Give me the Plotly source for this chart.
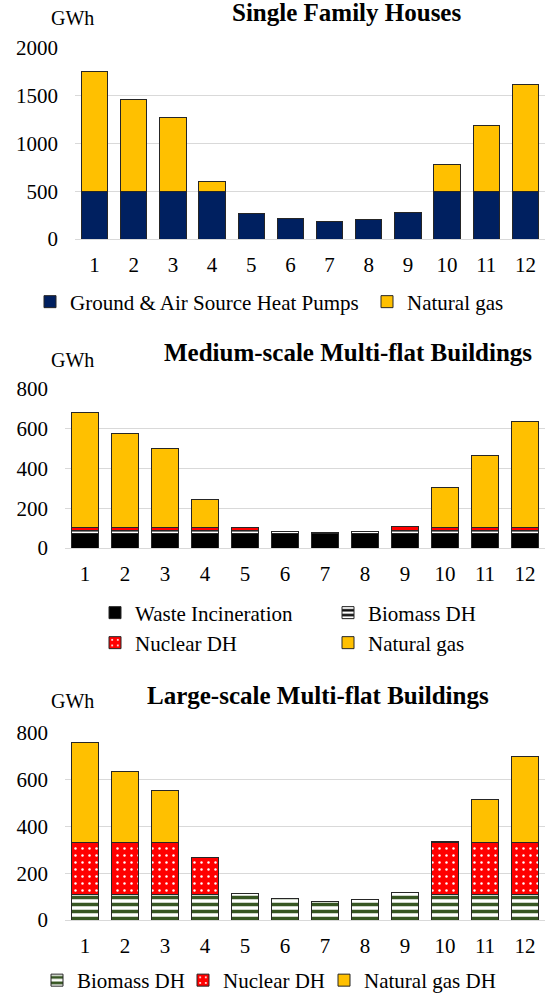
import plotly.graph_objects as go

W, H = 550, 1001
months = [str(i) for i in range(1, 13)]

# Single Family Houses (GWh)
sfh_heat_pumps = [500, 500, 500, 500, 262, 218, 187, 207, 278, 500, 500, 500]
sfh_natural_gas = [1250, 965, 770, 107, 0, 0, 0, 0, 0, 275, 685, 1120]

# Medium-scale Multi-flat Buildings (GWh)
mfb_waste = [71, 71, 71, 71, 71, 71, 71, 71, 71, 71, 71, 71]
mfb_biomass = [16, 16, 16, 16, 16, 13, 5, 10, 16, 16, 16, 16]
mfb_nuclear = [14, 14, 14, 14, 14, 0, 0, 0, 19, 14, 14, 14]
mfb_gas = [583, 477, 401, 141, 0, 0, 0, 0, 0, 204, 363, 536]

# Large-scale Multi-flat Buildings (GWh)
lfb_biomass = [111, 111, 111, 111, 113, 90, 81, 86, 116, 111, 111, 111]
lfb_nuclear = [222, 222, 222, 155, 0, 0, 0, 0, 0, 222, 222, 222]
lfb_gas = [425, 302, 220, 0, 0, 0, 0, 0, 0, 3, 182, 366]

FONT = "Liberation Serif"
NAVY = "#002060"
GOLD = "#FFC000"
RED = "#FF0000"
GREEN = "#375623"
EDGE = "#262626"


def nz(v):
    return [x if x else None for x in v]


fig = go.Figure()


def add_bar(x_ax, y_ax, vals, name, legend, color, pattern=None):
    marker = dict(color=color, line=dict(color=EDGE, width=1))
    if pattern:
        marker["pattern"] = pattern
    fig.add_trace(go.Bar(x=months, y=nz(vals), name=name, marker=marker,
                         xaxis=x_ax, yaxis=y_ax, legend=legend))


stripe_black = dict(shape="-", fgcolor="black", bgcolor="white", size=6, solidity=0.5,
                    fgopacity=1, fillmode="overlay")
stripe_green = dict(shape="-", fgcolor=GREEN, bgcolor="white", size=7, solidity=0.5,
                    fgopacity=1, fillmode="overlay")
dots_white = dict(shape=".", fgcolor="white", bgcolor=RED, size=7, solidity=0.1,
                  fgopacity=1, fillmode="overlay")

# chart 1
add_bar("x", "y", sfh_heat_pumps, "Ground & Air Source Heat Pumps", "legend", NAVY)
add_bar("x", "y", sfh_natural_gas, "Natural gas", "legend2", GOLD)
# chart 2
add_bar("x2", "y2", mfb_waste, "Waste Incineration", "legend3", "black")
add_bar("x2", "y2", mfb_biomass, "Biomass DH", "legend4", "white", stripe_black)
add_bar("x2", "y2", mfb_nuclear, "Nuclear DH", "legend5", RED, dots_white)
add_bar("x2", "y2", mfb_gas, "Natural gas", "legend6", GOLD)
# chart 3
add_bar("x3", "y3", lfb_biomass, "Biomass DH", "legend7", "white", stripe_green)
add_bar("x3", "y3", lfb_nuclear, "Nuclear DH", "legend8", RED, dots_white)
add_bar("x3", "y3", lfb_gas, "Natural gas DH", "legend9", GOLD)


def px_y(p):
    return 1 - p / H


def xax(l, r, anchor):
    return dict(domain=[l / W, r / W], anchor=anchor, showgrid=False, showline=False,
                ticks="", zeroline=False, tickfont=dict(family=FONT, size=21, color="black"),
                ticklabelstandoff=11, fixedrange=True)


def yax(bottom, top, rng, dtick, anchor):
    return dict(domain=[px_y(bottom), px_y(top)], anchor=anchor, range=rng, dtick=dtick,
                showgrid=True, gridcolor="#D9D9D9", gridwidth=1, zeroline=True,
                zerolinecolor="#D9D9D9", zerolinewidth=1, showline=False, ticks="",
                tickfont=dict(family=FONT, size=21, color="black"), ticklabelstandoff=16,
                fixedrange=True)


def leg(text_x, y_pix, bottom=False):
    d = dict(x=(text_x - 42) / W, xanchor="left",
             orientation="h", bgcolor="rgba(0,0,0,0)", borderwidth=0,
             font=dict(family=FONT, size=21, color="black"))
    if bottom:
        d.update(y=0, yanchor="bottom")
    else:
        d.update(y=px_y(y_pix), yanchor="middle")
    return d


annotations = []


def title(text, cx, cy):
    annotations.append(dict(text="<b>%s</b>" % text, x=cx / W, y=px_y(cy), xref="paper", yref="paper",
                            showarrow=False, xanchor="center", yanchor="middle",
                            font=dict(family=FONT, size=25, color="black")))


def unit(cx, cy):
    annotations.append(dict(text="GWh", x=cx / W, y=px_y(cy), xref="paper", yref="paper",
                            showarrow=False, xanchor="center", yanchor="middle",
                            font=dict(family=FONT, size=20, color="black")))


title("Single Family Houses", 346, 12)
unit(72, 18)
title("Medium-scale Multi-flat Buildings", 348, 353)
unit(72, 360)
title("Large-scale Multi-flat Buildings", 318, 695)
unit(72, 701)

fig.update_layout(
    width=W, height=H, margin=dict(l=0, r=0, t=0, b=0, autoexpand=False),
    paper_bgcolor="white", plot_bgcolor="white",
    barmode="stack", bargap=0.33,
    font=dict(family=FONT, color="black"),
    xaxis=xax(75, 545, "y"),
    yaxis=yax(239, 48, [0, 2000], 500, "x"),
    xaxis2=xax(65, 545, "y2"),
    yaxis2=yax(548, 389, [0, 800], 200, "x2"),
    xaxis3=xax(65, 545, "y3"),
    yaxis3=yax(920, 733, [0, 800], 200, "x3"),
    legend=leg(72, 302),
    legend2=leg(409, 302),
    legend3=leg(137, 613),
    legend4=leg(370, 613),
    legend5=leg(137, 643),
    legend6=leg(370, 643),
    legend7=leg(79, 984, True),
    legend8=leg(225, 984, True),
    legend9=leg(366, 984, True),
    annotations=annotations,
    showlegend=True,
)

fig.write_html("out.html", config={"displayModeBar": False},
               post_script="document.body.style.margin='0';document.body.style.overflow='hidden';")
